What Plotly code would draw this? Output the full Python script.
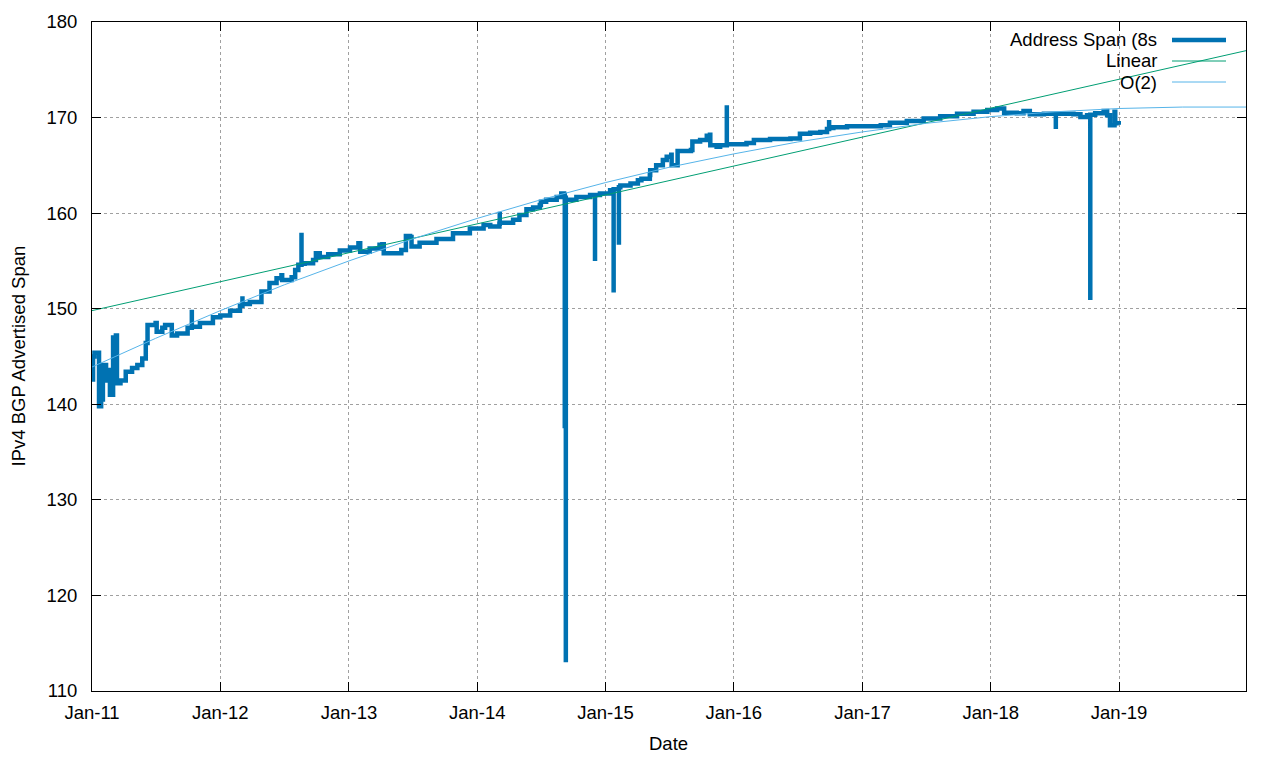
import plotly.graph_objects as go

# ---- Data ----
span_dates = [
    "2011-01-01", "2011-01-04", "2011-01-08", "2011-01-19", "2011-01-21", "2011-01-27",
    "2011-02-01", "2011-02-10", "2011-02-17", "2011-02-21", "2011-02-28", "2011-03-02",
    "2011-03-10", "2011-03-13", "2011-03-23", "2011-04-07", "2011-04-25", "2011-05-10",
    "2011-05-24", "2011-06-03", "2011-06-08", "2011-07-01", "2011-07-04", "2011-07-20",
    "2011-07-28", "2011-08-14", "2011-08-16", "2011-08-31", "2011-09-30", "2011-10-12",
    "2011-10-12", "2011-10-12", "2011-11-04", "2011-12-11", "2012-01-01", "2012-01-29",
    "2012-02-26", "2012-03-04", "2012-03-04", "2012-03-04", "2012-03-25", "2012-04-27",
    "2012-05-20", "2012-06-09", "2012-06-23", "2012-06-25", "2012-07-07", "2012-07-22",
    "2012-08-01", "2012-08-10", "2012-08-19", "2012-08-19", "2012-08-19", "2012-08-28",
    "2012-09-21", "2012-09-29", "2012-10-10", "2012-11-03", "2012-12-06", "2013-01-04",
    "2013-01-28", "2013-02-02", "2013-03-01", "2013-03-29", "2013-04-06", "2013-04-10",
    "2013-05-06", "2013-05-30", "2013-06-12", "2013-06-24", "2013-06-28", "2013-07-21",
    "2013-09-07", "2013-10-24", "2013-12-11", "2014-01-19", "2014-02-07", "2014-03-05",
    "2014-03-06", "2014-03-06", "2014-04-13", "2014-05-01", "2014-05-21", "2014-06-09",
    "2014-06-28", "2014-07-01", "2014-07-16", "2014-08-15", "2014-08-28", "2014-09-05",
    "2014-09-07", "2014-09-07", "2014-09-10", "2014-09-10", "2014-10-10", "2014-11-18",
    "2014-12-02", "2014-12-02", "2014-12-16", "2015-01-14", "2015-01-24", "2015-01-24",
    "2015-02-08", "2015-02-08", "2015-02-12", "2015-03-13", "2015-04-03", "2015-04-13",
    "2015-05-07", "2015-05-08", "2015-05-25", "2015-06-13", "2015-06-24", "2015-07-07",
    "2015-07-08", "2015-07-24", "2015-07-25", "2015-09-01", "2015-09-05", "2015-09-27",
    "2015-10-16", "2015-10-25", "2015-10-26", "2015-11-13", "2015-11-23", "2015-12-12",
    "2015-12-12", "2015-12-12", "2015-12-21", "2016-02-06", "2016-02-27", "2016-04-13",
    "2016-06-01", "2016-06-10", "2016-07-07", "2016-08-05", "2016-09-03", "2016-09-22",
    "2016-09-28", "2016-09-28", "2016-10-10", "2016-11-18", "2017-01-24", "2017-02-22",
    "2017-03-20", "2017-05-07", "2017-06-24", "2017-08-10", "2017-09-27", "2017-11-13",
    "2017-12-22", "2018-01-19", "2018-02-08", "2018-03-16", "2018-04-04", "2018-04-22",
    "2018-06-01", "2018-07-05", "2018-07-05", "2018-07-05", "2018-08-24", "2018-09-13",
    "2018-10-02", "2018-10-11", "2018-10-11", "2018-10-11", "2018-10-25", "2018-11-18",
    "2018-11-28", "2018-12-06", "2018-12-18", "2018-12-19", "2018-12-21", "2018-12-31",
]
span_values = [
    142.6, 145.0, 145.4, 145.4, 139.8, 140.5,
    144.1, 142.5, 143.6, 141.0, 141.0, 147.0,
    147.2, 142.2, 142.5, 143.4, 143.8, 144.1,
    144.8, 146.4, 148.3, 148.5, 147.6, 148.0,
    148.3, 148.3, 147.2, 147.4, 148.0, 148.1,
    149.9, 148.1, 148.5, 149.1, 149.3, 149.8,
    150.3, 150.5, 151.3, 150.5, 150.7, 151.8,
    152.7, 153.2, 153.5, 153.0, 153.0, 153.3,
    154.05, 154.6, 154.7, 157.95, 154.7, 154.75,
    155.1, 155.8, 155.4, 155.7, 156.1, 156.4,
    156.85, 155.97, 156.3, 156.7, 156.75, 155.8,
    155.8, 156.15, 157.6, 157.5, 156.5, 156.9,
    157.3, 157.9, 158.4, 158.75, 158.6, 158.9,
    160.15, 159.0, 159.3, 159.8, 160.4, 160.6,
    160.85, 161.2, 161.4, 161.7, 162.05, 161.9,
    137.5, 161.6, 113.0, 161.4, 161.7, 161.9,
    155.0, 161.9, 162.05, 162.4, 151.7, 162.5,
    156.7, 162.7, 162.9, 163.1, 163.45, 163.6,
    164.0, 164.5, 165.0, 165.55, 165.9, 166.1,
    165.0, 165.0, 166.5, 166.6, 167.5, 167.65,
    168.1, 168.2, 167.1, 166.95, 167.1, 167.2,
    171.3, 167.2, 167.2, 167.35, 167.65, 167.75,
    167.75, 167.8, 168.3, 168.4, 168.5, 168.8,
    169.75, 168.9, 169.0, 169.1, 169.1, 169.2,
    169.45, 169.65, 169.9, 170.15, 170.4, 170.6,
    170.8, 170.95, 170.5, 170.45, 170.7, 170.35,
    170.4, 170.4, 168.8, 170.4, 170.35, 170.05,
    170.25, 170.25, 150.9, 170.3, 170.45, 170.7,
    170.25, 169.2, 169.2, 170.6, 169.4, 169.25,
]

linear_dates = ["2011-01-01", "2019-12-28"]
linear_values = [149.8, 177.0]

quad_dates = [
    "2011-01-01", "2011-07-01", "2012-01-01", "2012-07-01", "2013-01-01", "2013-07-01",
    "2014-01-01", "2014-07-01", "2015-01-01", "2015-07-01", "2016-01-01", "2016-07-01",
    "2017-01-01", "2017-07-01", "2018-01-01", "2018-07-01", "2019-01-01", "2019-07-01",
    "2019-12-28",
]
quad_values = [
    143.9, 146.9, 149.8, 152.5, 155.0, 157.3,
    159.45, 161.4, 163.2, 164.8, 166.2, 167.45,
    168.5, 169.4, 170.1, 170.6, 170.95, 171.1,
    171.1,
]

y_ticks = [110, 120, 130, 140, 150, 160, 170, 180]
legend_labels = ["Address Span (8s", "Linear", "O(2)"]

C_SPAN = "#0072b2"
C_LIN = "#009e73"
C_QUAD = "#56b4e9"
FONT = "Liberation Sans, Arial, sans-serif"
FS = 18.5

fig = go.Figure()
fig.add_trace(go.Scatter(x=span_dates, y=span_values, mode="lines",
                         line=dict(color=C_SPAN, width=4.5, shape="hv"),
                         name=legend_labels[0]))
fig.add_trace(go.Scatter(x=linear_dates, y=linear_values, mode="lines",
                         line=dict(color=C_LIN, width=1), name=legend_labels[1]))
fig.add_trace(go.Scatter(x=quad_dates, y=quad_values, mode="lines",
                         line=dict(color=C_QUAD, width=1), name=legend_labels[2]))

# plot area in page pixels (the page body adds an 8px offset)
OFF = 8
L, R, T, B = 92, 1246, 22, 691
def px(xp):
    return (xp - L) / (R - L)
def py(yp):
    return (B - yp) / (B - T)

# gnuplot-style legend (text right aligned, sample to the right)
leg_rows = [(40, 4.5, C_SPAN), (61, 1, C_LIN), (82, 1, C_QUAD)]
for lab, (yy, w, c) in zip(legend_labels, leg_rows):
    fig.add_annotation(x=px(1159), y=py(yy), xref="paper", yref="paper",
                       text=lab, showarrow=False, xanchor="right", yanchor="middle",
                       font=dict(family=FONT, size=FS, color="black"))
    fig.add_shape(type="line", xref="paper", yref="paper",
                  x0=px(1172), x1=px(1226), y0=py(yy), y1=py(yy),
                  line=dict(color=c, width=w))

fig.add_annotation(x=px(668), y=py(743), xref="paper", yref="paper", text="Date",
                   showarrow=False, xanchor="center", yanchor="middle",
                   font=dict(family=FONT, size=FS, color="black"))
fig.add_annotation(x=px(18), y=0.5, xref="paper", yref="paper",
                   text="IPv4 BGP Advertised Span", textangle=-90,
                   showarrow=False, xanchor="center", yanchor="middle",
                   font=dict(family=FONT, size=FS, color="black"))

axis_common = dict(showline=True, linecolor="black", linewidth=1, mirror="allticks",
                   ticks="inside", ticklen=9, tickcolor="black", tickwidth=1,
                   showgrid=True, gridcolor="#a0a0a0", griddash="dot", gridwidth=1,
                   zeroline=False, automargin=False,
                   tickfont=dict(family=FONT, size=FS, color="black"))

fig.update_xaxes(type="date", range=["2011-01-01", "2019-12-28"],
                 dtick="M12", tick0="2011-01-01", tickformat="%b-%y",
                 ticklabelstandoff=5, **axis_common)
fig.update_yaxes(range=[110, 180], tickvals=y_ticks, ticklabelstandoff=10,
                 **axis_common)

W, H = 1280, 760
fig.update_layout(width=W, height=H, autosize=False,
                  margin=dict(l=L - OFF, r=W + OFF - R, t=T - OFF, b=H + OFF - B),
                  paper_bgcolor="white", plot_bgcolor="white",
                  showlegend=False,
                  font=dict(family=FONT, size=FS, color="black"))

fig.write_html("out.html")
